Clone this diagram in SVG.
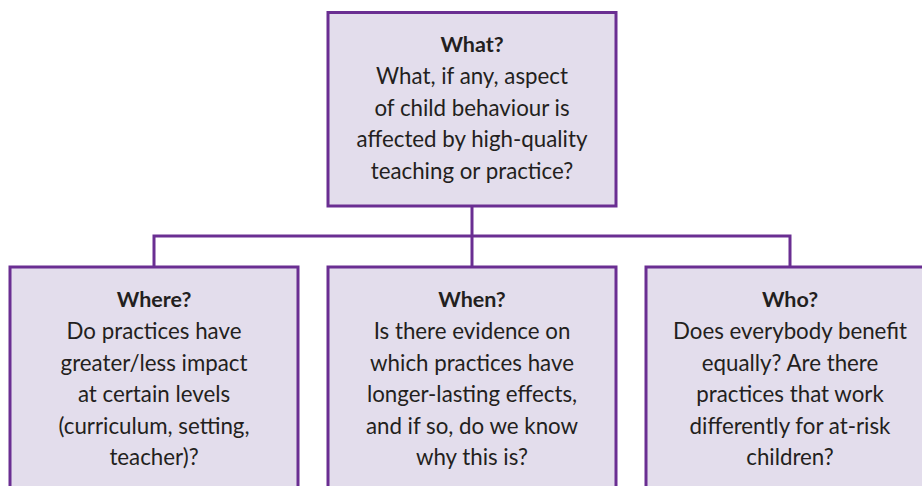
<svg xmlns="http://www.w3.org/2000/svg" width="922" height="486" viewBox="0 0 922 486">
  <style>
    .box { fill: #e3ddec; stroke: #6a2e92; stroke-width: 3; }
    .wire { fill: none; stroke: #6a2e92; stroke-width: 3; }
    .head { font-family: Lato, "Open Sans", sans-serif; font-weight: bold; font-size: 21.5px; fill: #231f20; text-anchor: middle; }
    .body { font-family: Lato, "Open Sans", sans-serif; font-size: 22.3px; fill: #231f20; text-anchor: middle; }
  </style>
  <rect width="922" height="486" fill="#ffffff"/>

  <g id="connectors">
    <path class="wire" d="M472 206 V267"/>
    <path class="wire" d="M154 267 V236 H790 V267"/>
  </g>

  <g id="what">
    <rect class="box" x="328" y="12.5" width="288" height="193.5"/>
    <text class="head" x="472" y="52">What?</text>
    <text class="body" x="472" y="84">What, if any, aspect</text>
    <text class="body" x="472" y="115.5">of child behaviour is</text>
    <text class="body" x="472" y="147">affected by high-quality</text>
    <text class="body" x="472" y="178.5">teaching or practice?</text>
  </g>

  <g id="where">
    <rect class="box" x="10" y="267" width="288" height="240"/>
    <text class="head" x="154" y="307">Where?</text>
    <text class="body" x="154" y="339">Do practices have</text>
    <text class="body" x="154" y="370.5">greater/less impact</text>
    <text class="body" x="154" y="402">at certain levels</text>
    <text class="body" x="154" y="433.5">(curriculum, setting,</text>
    <text class="body" x="154" y="465">teacher)?</text>
  </g>

  <g id="when">
    <rect class="box" x="328" y="267" width="288" height="240"/>
    <text class="head" x="472" y="307">When?</text>
    <text class="body" x="472" y="339">Is there evidence on</text>
    <text class="body" x="472" y="370.5">which practices have</text>
    <text class="body" x="472" y="402">longer-lasting effects,</text>
    <text class="body" x="472" y="433.5">and if so, do we know</text>
    <text class="body" x="472" y="465">why this is?</text>
  </g>

  <g id="who">
    <rect class="box" x="646" y="267" width="288" height="240"/>
    <text class="head" x="790" y="307">Who?</text>
    <text class="body" x="790" y="339">Does everybody benefit</text>
    <text class="body" x="790" y="370.5">equally? Are there</text>
    <text class="body" x="790" y="402">practices that work</text>
    <text class="body" x="790" y="433.5">differently for at-risk</text>
    <text class="body" x="790" y="465">children?</text>
  </g>
</svg>
